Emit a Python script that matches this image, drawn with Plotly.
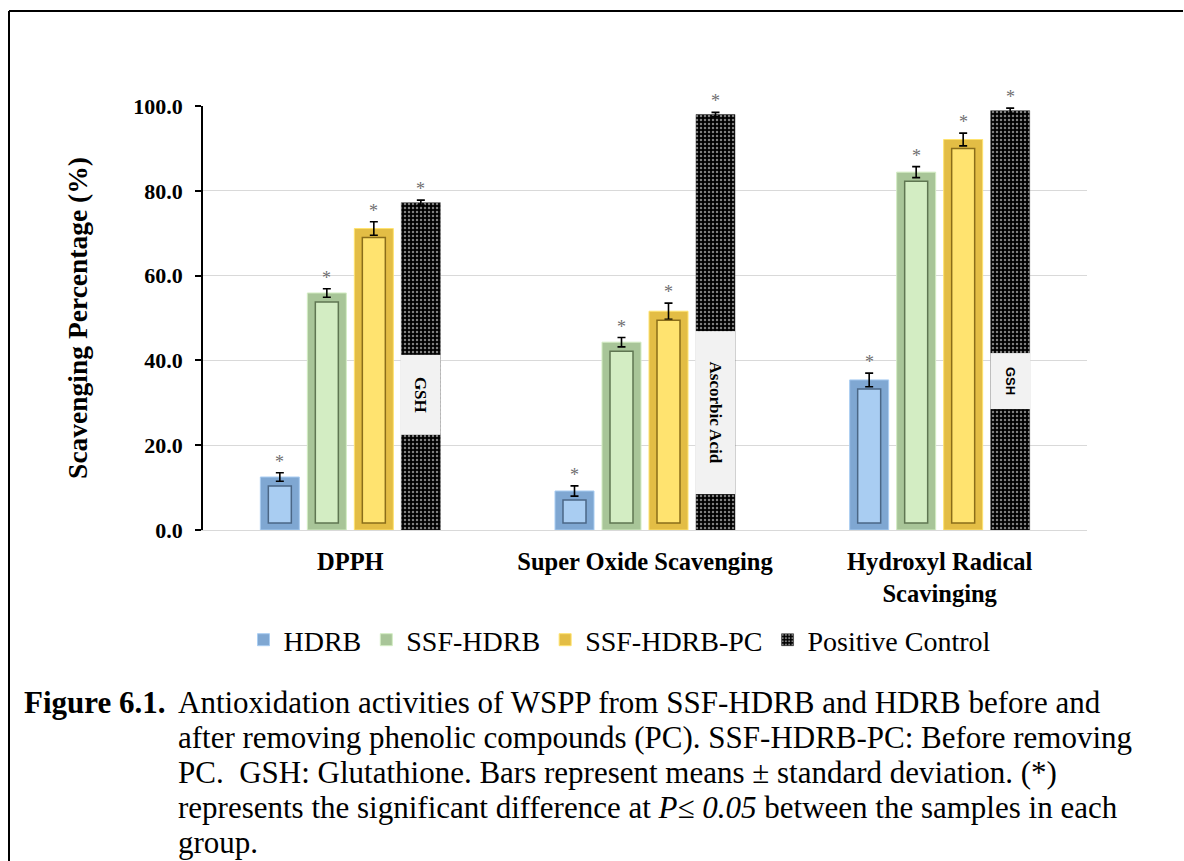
import plotly.graph_objects as go

# ---- data -------------------------------------------------------------
categories = ["DPPH", "Super Oxide Scavenging", "Hydroxyl Radical<br>Scavinging"]
series_names = ["HDRB", "SSF-HDRB", "SSF-HDRB-PC", "Positive Control"]

hdrb = [12.5, 9.2, 35.4]
hdrb_sd = [1.0, 1.2, 1.6]
ssf_hdrb = [55.9, 44.3, 84.4]
ssf_hdrb_sd = [1.0, 1.1, 1.3]
ssf_hdrb_pc = [71.1, 51.6, 92.1]
ssf_hdrb_pc_sd = [1.6, 1.9, 1.5]
positive_control = [77.2, 98.0, 98.9]
positive_control_sd = [0.6, 0.5, 0.6]

control_names = ["GSH", "Ascorbic Acid", "GSH"]
y_ticks = [0, 20, 40, 60, 80, 100]

values = [hdrb, ssf_hdrb, ssf_hdrb_pc, positive_control]
errors = [hdrb_sd, ssf_hdrb_sd, ssf_hdrb_pc_sd, positive_control_sd]

# ---- page geometry ----------------------------------------------------
W, H = 1184, 861
ML, MR, MT, MB = 203, 97, 106, 331
PW, PH = W - ML - MR, H - MT - MB
PX_PER_UNIT = PH / 100.0
PX_PER_CAT = PW / len(categories)


def paper_x(px):
    return (px - ML) / PW


def paper_y(py):
    return (H - MB - py) / PH


SERIF = "Liberation Serif"
BAR_W = 39 / PX_PER_CAT          # bar width in category units
STEP = 47 / PX_PER_CAT           # distance between bar centres
INSET_X = 8 / PX_PER_CAT         # bevel inset (horizontal)
INSET_TOP = 9 / PX_PER_UNIT      # bevel inset at bar top
INSET_BOT = 7 / PX_PER_UNIT      # bevel inset at bar base

# face, rim, edge colours of the bevelled bars
bevel = [
    ("#a9cdf2", "#7fa7d2", "#4b6786"),
    ("#d3edc3", "#a8c598", "#5f7652"),
    ("#ffe36f", "#e3bd45", "#8a6d1a"),
]

fig = go.Figure()

for j, name in enumerate(series_names):
    offset = (j - 1.5) * STEP - BAR_W / 2
    err = dict(type="data", array=errors[j], color="black",
               thickness=1.6, width=4, visible=True)
    if j < 3:
        face, rim, edge = bevel[j]
        fig.add_trace(go.Bar(
            x=categories, y=values[j], name=name,
            width=BAR_W, offset=offset,
            marker=dict(color=rim, line=dict(color=face, width=1)),
            error_y=err,
        ))
        inner_h = [v - INSET_TOP - INSET_BOT for v in values[j]]
        fig.add_trace(go.Bar(
            x=categories, y=inner_h, base=[INSET_BOT] * len(categories),
            width=BAR_W - 2 * INSET_X, offset=offset + INSET_X,
            marker=dict(color=face, line=dict(color=edge, width=1.5)),
            showlegend=False, hoverinfo="skip",
        ))
    else:
        fig.add_trace(go.Bar(
            x=categories, y=values[j], name=name,
            width=BAR_W, offset=offset,
            marker=dict(
                color="black",
                line=dict(color="#333333", width=0.5),
                pattern=dict(shape=".", bgcolor="black", fgcolor="white",
                             size=4, solidity=0.3),
            ),
            error_y=err,
        ))
    # significance marks
    for i, (v, e) in enumerate(zip(values[j], errors[j])):
        fig.add_annotation(
            x=i + (j - 1.5) * STEP, y=v + e, xref="x", yref="y",
            text="*", showarrow=False, yanchor="bottom", yshift=-1,
            font=dict(family=SERIF, size=18, color="#6f6f6f"),
        )

# name tags on the positive-control bars: (centre value, length px, font)
tag_style = [
    (31.8, 77, SERIF, 17),
    (27.8, 160, SERIF, 17),
    (35.2, 53, "Liberation Sans", 13),
]
for i, name in enumerate(control_names):
    centre, length, fam, size = tag_style[i]
    fig.add_annotation(
        x=i + 1.5 * STEP, y=centre, xref="x", yref="y",
        text="<b>%s</b>" % name, textangle=90, showarrow=False,
        width=length, height=37, bgcolor="#f2f2f2",
        xanchor="center", yanchor="middle",
        font=dict(family=fam, size=size, color="black"),
    )

# caption below the chart
caption = [
    "Antioxidation activities of WSPP from SSF-HDRB and HDRB before and",
    "after removing phenolic compounds (PC). SSF-HDRB-PC: Before removing",
    "PC.\u00a0 GSH: Glutathione. Bars represent means \u00b1 standard deviation. (*)",
    "represents the significant difference at <i>P\u2264 0.05</i> between the samples in each",
    "group.",
]
baselines = [712, 747, 782, 817, 852]
cap_size = 31
fig.add_annotation(
    x=paper_x(22), y=paper_y(baselines[0] - 10), xref="paper", yref="paper",
    text="<b>Figure 6.1.</b>", showarrow=False, xanchor="left", yanchor="middle",
    font=dict(family=SERIF, size=cap_size, color="black"),
)
for line, base in zip(caption, baselines):
    fig.add_annotation(
        x=paper_x(176), y=paper_y(base - 10), xref="paper", yref="paper",
        text=line, showarrow=False, xanchor="left", yanchor="middle",
        font=dict(family=SERIF, size=cap_size, color="black"),
    )

# outer frame (top and left edges)
fig.add_shape(type="line", xref="paper", yref="paper",
              x0=paper_x(9), x1=paper_x(1183), y0=paper_y(11), y1=paper_y(11),
              line=dict(color="black", width=2))
fig.add_shape(type="line", xref="paper", yref="paper",
              x0=paper_x(9), x1=paper_x(9), y0=paper_y(11), y1=paper_y(H + 5),
              line=dict(color="black", width=2))

fig.update_layout(
    width=W, height=H,
    margin=dict(l=ML, r=MR, t=MT, b=MB, autoexpand=False),
    barmode="overlay",
    plot_bgcolor="white", paper_bgcolor="white",
    font=dict(family=SERIF, color="black"),
    legend=dict(
        orientation="h", x=paper_x(620), xanchor="center",
        y=paper_y(640), yanchor="middle",
        font=dict(family=SERIF, size=28, color="black"),
        itemclick=False,
    ),
)
fig.update_xaxes(
    type="category", range=[-0.5, len(categories) - 0.5],
    showline=True, linecolor="#d9d9d9", linewidth=1,
    ticks="", showgrid=False,
    tickfont=dict(family=SERIF, size=24.5, weight="bold", color="black"),
    ticklabelstandoff=10,
)
fig.update_yaxes(
    range=[0, 100], tickvals=y_ticks, tickformat=".1f",
    ticks="outside", ticklen=6, tickwidth=1.5, tickcolor="black",
    showline=True, linecolor="black", linewidth=1.5,
    showgrid=True, gridcolor="#d9d9d9", gridwidth=1, zeroline=False,
    tickfont=dict(family=SERIF, size=22, weight="bold", color="black"),
    ticklabelstandoff=8,
    title=dict(text="Scavenging Percentage (%)", standoff=38,
               font=dict(family=SERIF, size=27.5, weight="bold", color="black")),
)

fig.write_html("out.html")
